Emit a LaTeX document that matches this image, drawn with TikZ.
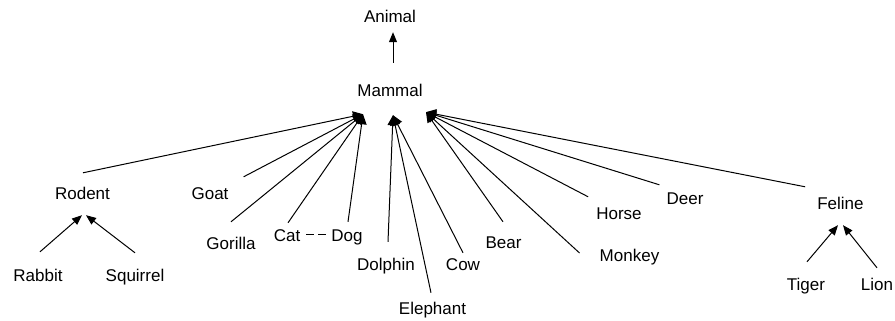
\documentclass[tikz,border=0pt]{standalone}
\usepackage{fontspec}
\setmainfont{Liberation Sans}
\usepackage{xcolor}
\usepackage{tikz}
\usetikzlibrary{arrows.meta,calc}

\tikzset{
  animal/.style={inner sep=0pt, font=\fontsize{17}{20}\selectfont, text height=12.5pt, text depth=3.5pt},
  isa/.style={line width=1pt, -{Triangle[length=10pt,width=8pt]}},
  isabig/.style={line width=1pt, -{Triangle[length=10pt,width=10pt]}},
  same/.style={line width=1pt, dash pattern=on 8pt off 4pt}
}

\begin{document}
\begin{tikzpicture}[x=1pt,y=-1pt]
    \useasboundingbox (0,0) rectangle (895,321);
    % 顶层
    \node[animal] (animal) at (390,18) {Animal};
    \node[animal] (mammal) at (390,92) {Mammal};
    \draw[isa] ([shift={(3pt,21pt)}]mammal.north) -- ([shift={(3pt,-6pt)}]animal.south);
    % 三个汇合点
    \coordinate (mamL) at ([shift={(-27pt,-14pt)}]mammal.south);
    \coordinate (mamM) at ([shift={(3pt,-15pt)}]mammal.south);
    \coordinate (mamR) at ([shift={(36pt,-12pt)}]mammal.south);
    % 左边
    \node[animal] (rodent) at (82.5,195) {Rodent};
    \node[animal] (goat) at (210,195) {Goat};
    \node[animal] (gorilla) at (231,245) {Gorilla};
    \node[animal] (cat) at (287,237) {Cat};
    \node[animal] (dog) at (347,237) {Dog};
    \draw[isabig] ([shift={(0.5pt,14pt)}]rodent.north) -- (mamL);
    \draw[isabig] ([shift={(15pt,10pt)}]goat.north east) -- (mamL);
    \draw[isabig] ([shift={(0pt,15pt)}]gorilla.north) -- (mamL);
    \draw[isabig] ([shift={(1pt,6pt)}]cat.north) -- (mamL);
    \draw[isabig] ([shift={(1pt,7pt)}]dog.north) -- (mamL);
    \draw[same, shorten <=6pt, shorten >=4pt] ([yshift=3pt]cat.east) -- ([yshift=3pt]dog.west);
    % 中间
    \node[animal] (dolphin) at (386,266) {Dolphin};
    \node[animal] (elephant) at (432.5,310) {Elephant};
    \node[animal] (cow) at (463,266) {Cow};
    \draw[isabig] ([shift={(2pt,16pt)}]dolphin.north) -- (mamM);
    \draw[isabig] ([shift={(-1.5pt,9pt)}]elephant.north) -- (mamM);
    \draw[isabig] ([shift={(0pt,5pt)}]cow.north) -- (mamM);
    % 右边
    \node[animal] (bear) at (503.5,244) {Bear};
    \node[animal] (monkey) at (629.5,257) {Monkey};
    \node[animal] (horse) at (619,215) {Horse};
    \node[animal] (deer) at (685,200) {Deer};
    \node[animal] (feline) at (840.5,205) {Feline};
    \draw[isabig] ([shift={(-0.5pt,14pt)}]bear.north) -- (mamR);
    \draw[isabig] ([shift={(-20pt,4pt)}]monkey.west) -- (mamR);
    \draw[isabig] ([shift={(-8pt,10pt)}]horse.north west) -- (mamR);
    \draw[isabig] ([shift={(-7pt,7pt)}]deer.north west) -- (mamR);
    \draw[isabig] ([shift={(-12pt,10pt)}]feline.north west) -- (mamR);
    % 啮齿类
    \node[animal] (rabbit) at (38,277) {Rabbit};
    \node[animal] (squirrel) at (135,277) {Squirrel};
    \draw[isa] ([shift={(2pt,17pt)}]rabbit.north) -- ([shift={(-0.5pt,-12pt)}]rodent.south);
    \draw[isa] ([shift={(0pt,16pt)}]squirrel.north) -- ([shift={(3.5pt,-12pt)}]rodent.south);
    % 猫科
    \node[animal] (tiger) at (806,286) {Tiger};
    \node[animal] (lion) at (877,286) {Lion};
    \draw[isa] ([shift={(1pt,16pt)}]tiger.north) -- ([shift={(-2.5pt,-12pt)}]feline.south);
    \draw[isa] ([shift={(0pt,10pt)}]lion.north) -- ([shift={(2.5pt,-12pt)}]feline.south);
\end{tikzpicture}
\end{document}
